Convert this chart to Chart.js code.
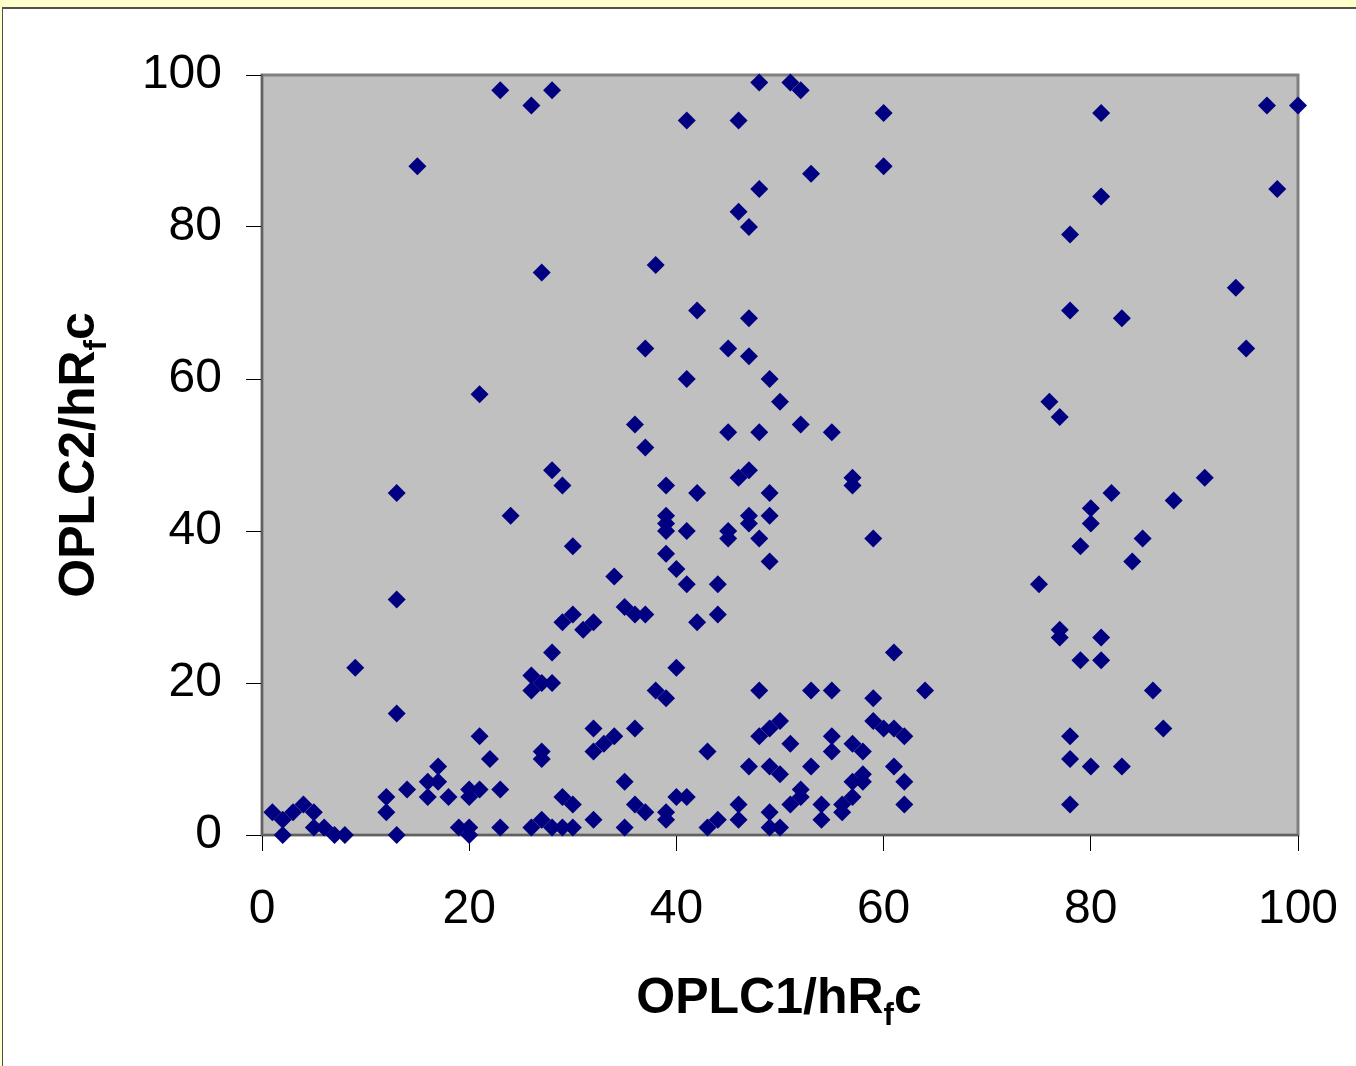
<!DOCTYPE html>
<html lang="en">
<head>
  <meta charset="UTF-8" />
  <title>OPLC1 vs OPLC2</title>
  <script src="https://cdn.jsdelivr.net/npm/chart.js"></script>
  <style>
    html, body { margin: 0; padding: 0; }
    body { width: 1356px; height: 1066px; background: #FFFFCC; position: relative; overflow: hidden; }
    .panel { position: absolute; left: 2px; top: 7px; right: -10px; bottom: -10px; background: #fff;
             border-top: 2px solid #505050; border-left: 1px solid #505050; }
    .chart-box { position: absolute; left: 0; top: 0; width: 1356px; height: 1066px; }
  </style>
</head>
<body>
  <div class="panel"></div>
  <div class="chart-box"><canvas id="scatter"></canvas></div>

  <script>
    // hRfc values
    const oplc1 = [
      1, 2, 3, 4, 5, 5, 6, 7, 8, 2,
      9, 12, 12, 13, 13, 13, 13, 14, 15,
      16, 16, 17, 17, 18, 19, 20, 20, 20, 20, 21,
      21, 21, 22, 23, 23, 23, 24,
      26, 26, 26, 26, 27, 27, 27, 27, 27,
      28, 28, 28, 28, 28, 29, 29, 29, 29,
      30, 30, 30, 30, 31, 32, 32, 32, 32,
      33, 34, 34, 35, 35, 35, 36, 36, 36, 36,
      37, 37, 37, 37, 38, 38,
      39, 39, 39, 39, 39, 39, 39, 39,
      40, 40, 40, 41, 41, 41, 41, 41,
      42, 42, 42, 43, 43, 44, 44, 44,
      45, 45, 45, 45, 46, 46, 46, 46, 46,
      47, 47, 47, 47, 47, 47, 47,
      48, 48, 48, 48, 48, 48,
      49, 49, 49, 49, 49, 49, 49, 49,
      50, 50, 50, 50, 51, 51, 51, 52, 52, 52, 52,
      53, 53, 53, 54, 54, 55, 55, 55, 55, 56, 56,
      57, 57, 57, 57, 57, 58, 58, 58, 59, 59, 59,
      60, 60, 60, 61, 61, 61, 62, 62, 62, 64,
      75, 76, 77, 77, 77, 78, 78, 78, 78, 78,
      79, 79, 80, 80, 80, 81, 81, 81, 81,
      82, 83, 83, 84, 85, 86, 87, 88,
      91, 94, 95, 97, 98, 100
    ];
    const oplc2 = [
      3, 2, 3, 4, 3, 1, 1, 0, 0, 0,
      22, 5, 3, 0, 16, 31, 45, 6, 88,
      7, 5, 7, 9, 5, 1, 1, 0, 6, 5, 6,
      13, 58, 10, 6, 1, 98, 42,
      96, 21, 19, 1, 20, 11, 10, 2, 74,
      98, 48, 24, 20, 1, 46, 28, 5, 1,
      38, 29, 4, 1, 27, 28, 14, 11, 2,
      12, 13, 34, 30, 7, 1, 29, 54, 14, 4,
      29, 64, 51, 3, 75, 19,
      46, 42, 41, 40, 37, 18, 3, 2,
      35, 22, 5, 94, 60, 40, 33, 5,
      69, 45, 28, 11, 1, 33, 29, 2,
      64, 53, 40, 39, 94, 82, 47, 4, 2,
      80, 68, 63, 48, 42, 41, 9,
      99, 85, 53, 39, 19, 13,
      60, 45, 42, 36, 14, 9, 3, 1,
      57, 15, 8, 1, 99, 12, 4, 98, 54, 6, 5,
      87, 19, 9, 4, 2, 53, 19, 13, 11, 4, 3,
      47, 46, 12, 7, 5, 11, 8, 7, 39, 18, 15,
      95, 88, 14, 24, 14, 9, 13, 7, 4, 19,
      33, 57, 55, 27, 26, 79, 69, 13, 10, 4,
      38, 23, 43, 41, 9, 95, 84, 26, 23,
      45, 68, 9, 36, 39, 19, 14, 44,
      47, 72, 64, 96, 85, 96
    ];
    const axisTicks = [0, 20, 40, 60, 80, 100];

    const points = oplc1.map((x, i) => ({ x: x, y: oplc2[i] }));

    const fontFam = "'Liberation Sans', Arial, sans-serif";

    // gray plot area with its frame
    const plotBg = {
      id: 'plotBg',
      beforeDraw(chart) {
        const { ctx, chartArea: a } = chart;
        ctx.save();
        ctx.fillStyle = '#C0C0C0';
        ctx.fillRect(a.left, a.top, a.right - a.left, a.bottom - a.top);
        ctx.strokeStyle = '#808080';
        ctx.lineWidth = 3;
        ctx.strokeRect(a.left, a.top, a.right - a.left, a.bottom - a.top);
        ctx.restore();
      }
    };

    // axis titles with subscript f
    function drawTitle(ctx, parts, cx, baseY) {
      let w = 0;
      parts.forEach(p => { ctx.font = p.font; w += ctx.measureText(p.text).width; });
      let x = cx - w / 2;
      parts.forEach(p => {
        ctx.font = p.font;
        ctx.fillText(p.text, x, baseY + p.dy);
        x += ctx.measureText(p.text).width;
      });
    }

    const axisTitles = {
      id: 'axisTitles',
      afterDraw(chart) {
        const { ctx, chartArea: a } = chart;
        const big = "bold 50px " + fontFam;
        const small = "bold 31px " + fontFam;
        ctx.save();
        ctx.fillStyle = '#000';
        ctx.textAlign = 'left';
        ctx.textBaseline = 'alphabetic';
        drawTitle(ctx, [
          { text: 'OPLC1/hR', font: big, dy: 0 },
          { text: 'f', font: small, dy: 12 },
          { text: 'c', font: big, dy: 0 }
        ], (a.left + a.right) / 2 - 1, 1013);
        ctx.translate(94, (a.top + a.bottom) / 2);
        ctx.rotate(-Math.PI / 2);
        drawTitle(ctx, [
          { text: 'OPLC2/hR', font: big, dy: 0 },
          { text: 'f', font: small, dy: 12 },
          { text: 'c', font: big, dy: 0 }
        ], 0, 0);
        ctx.restore();
      }
    };

    new Chart(document.getElementById('scatter'), {
      type: 'scatter',
      data: {
        datasets: [{
          data: points,
          pointStyle: 'rectRot',
          pointRadius: 9,
          pointBorderWidth: 0,
          backgroundColor: '#000080',
          borderColor: '#000080',
          clip: false
        }]
      },
      options: {
        responsive: true,
        maintainAspectRatio: false,
        animation: false,
        layout: { padding: { top: 75, right: 58, left: 0, bottom: 0 } },
        plugins: { legend: { display: false }, tooltip: { enabled: false } },
        scales: {
          x: {
            type: 'linear', min: 0, max: 100,
            afterFit(scale) {
              scale.height = 231;
              scale.paddingLeft = 0;
              scale.paddingRight = 0;
            },
            afterBuildTicks(scale) { scale.ticks = axisTicks.map(v => ({ value: v })); },
            grid: { drawOnChartArea: false, tickLength: 16, color: '#000' },
            border: { color: '#606060', width: 2 },
            ticks: { color: '#000', padding: 30, maxRotation: 0, font: { family: fontFam, size: 48 } }
          },
          y: {
            type: 'linear', min: 0, max: 100,
            afterFit(scale) { scale.width = 262; },
            afterBuildTicks(scale) { scale.ticks = axisTicks.map(v => ({ value: v })); },
            grid: { drawOnChartArea: false, tickLength: 16, color: '#000' },
            border: { color: '#606060', width: 2 },
            ticks: { color: '#000', padding: 24, font: { family: fontFam, size: 48 } }
          }
        }
      },
      plugins: [plotBg, axisTitles]
    });
  </script>
</body>
</html>
